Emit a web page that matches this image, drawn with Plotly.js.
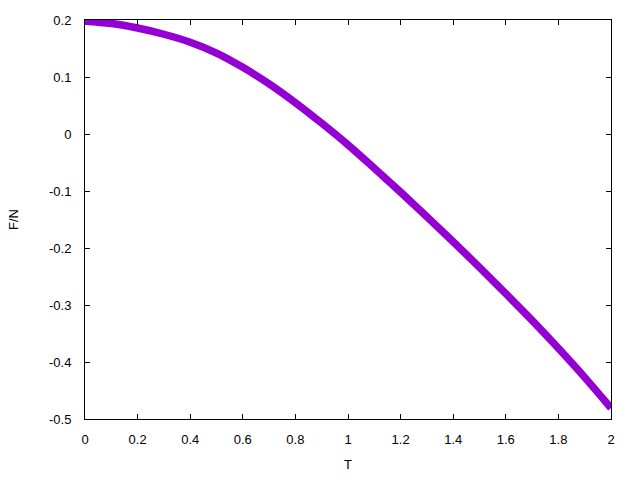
<!DOCTYPE html>
<html>
<head>
<meta charset="utf-8">
<script src="https://cdn.plot.ly/plotly-3.0.1.min.js"></script>
<style>html,body{margin:0;padding:0;background:#fff;}#chart{width:640px;height:480px;}</style>
</head>
<body>
<div id="chart"></div>
<script>
const T = [0, 0.1, 0.2, 0.3, 0.4, 0.5, 0.6, 0.7, 0.8, 0.9, 1.0, 1.1, 1.2, 1.3, 1.4, 1.5, 1.6, 1.7, 1.8, 1.9, 2.0];
const F = [0.198, 0.194, 0.186, 0.175, 0.161, 0.142, 0.117, 0.088, 0.055, 0.019, -0.019, -0.060, -0.102, -0.145, -0.189, -0.234, -0.280, -0.327, -0.376, -0.427, -0.481];
const xTickVals = [0, 0.2, 0.4, 0.6, 0.8, 1, 1.2, 1.4, 1.6, 1.8, 2];
const xTickText = ["0", "0.2", "0.4", "0.6", "0.8", "1", "1.2", "1.4", "1.6", "1.8", "2"];
const yTickVals = [0.2, 0.1, 0, -0.1, -0.2, -0.3, -0.4, -0.5];
const yTickText = ["0.2", "0.1", "0", "-0.1", "-0.2", "-0.3", "-0.4", "-0.5"];

const trace = {
  x: T, y: F, type: 'scatter', mode: 'lines',
  line: {color: '#9400d3', width: 7.5, shape: 'spline', smoothing: 1},
  hoverinfo: 'skip'
};
const font = {family: 'Liberation Sans, Arial, sans-serif', size: 13, color: '#000'};
const layout = {
  width: 640, height: 480,
  margin: {l: 85, r: 29, t: 20, b: 61},
  paper_bgcolor: '#fff', plot_bgcolor: '#fff',
  showlegend: false,
  font: font,
  xaxis: {
    range: [0, 2], tickvals: xTickVals, ticktext: xTickText,
    ticks: 'inside', ticklen: 5, tickcolor: '#000', tickwidth: 1,
    showline: true, linecolor: '#000', linewidth: 1, mirror: 'ticks',
    showgrid: false, zeroline: false, ticklabelstandoff: 8,
    title: {text: 'T', font: font, standoff: 14}
  },
  yaxis: {
    range: [-0.5, 0.2], tickvals: yTickVals, ticktext: yTickText,
    ticks: 'inside', ticklen: 5, tickcolor: '#000', tickwidth: 1,
    showline: true, linecolor: '#000', linewidth: 1, mirror: 'ticks',
    showgrid: false, zeroline: false, ticklabelstandoff: 10,
    title: {text: 'F/N', font: font, standoff: 27}
  }
};
Plotly.newPlot('chart', [trace], layout, {staticPlot: true});
</script>
</body>
</html>
